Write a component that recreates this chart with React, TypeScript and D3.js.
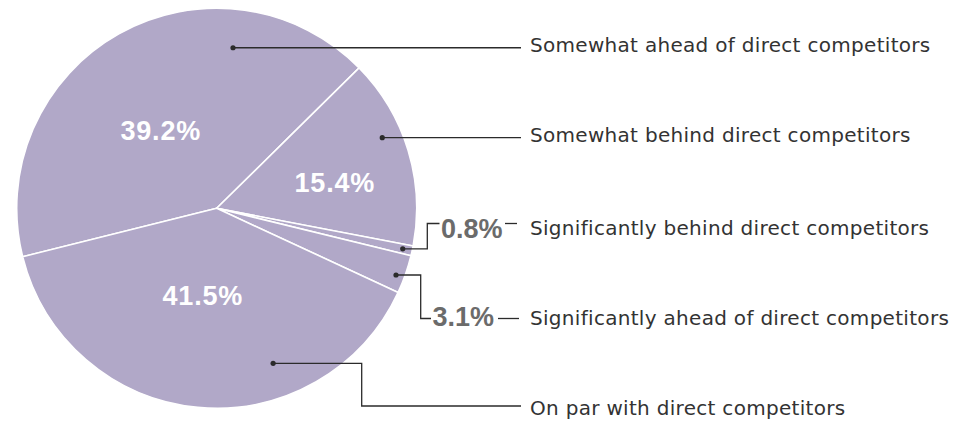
import React from 'react';
import * as d3 from 'd3';

// Slices in clockwise order from the start angle
const categories = [
  'Somewhat ahead of direct competitors',
  'Somewhat behind direct competitors',
  'Significantly behind direct competitors',
  'Significantly ahead of direct competitors',
  'On par with direct competitors',
];
// arc sizes as drawn in the reference (percent)
const sliceShares = [41.5, 15.4, 0.8, 3.1, 39.2];
// percent labels as printed in the reference
const percentLabels = ['39.2%', '15.4%', '0.8%', '3.1%', '41.5%'];

const W = 969;
const H = 421;
const CX = 216.7;
const CY = 208.3;
const R = 200;
const START_DEG = -104;
const FILL = '#b1a8c8';
const LINE = '#2b2b2b';
const LEG_X = 530;
const LINE_END = 521;

const rad = (d: number) => (d * Math.PI) / 180;
const polar = (deg: number, r: number): [number, number] => [
  CX + r * Math.sin(rad(deg)),
  CY - r * Math.cos(rad(deg)),
];

// inner labels: centroid + nudge (null = placed outside)
const innerNudge: ([number, number] | null)[] = [[-7, 9.4], [22.4, 3], null, null, [-4.4, -12.3]];

// callout layout
type Callout = {
  dot: [number, number]; // [angleDeg, radius]
  elbowX?: number;
  elbowY?: number;
  lineY?: number;
  labelX?: number;
  labelBase?: number;
  dash?: [number, number];
  legendBase: number;
};
const callouts: Callout[] = [
  { dot: [5.8, 161.4], legendBase: 51.7 },
  { dot: [66.9, 180], legendBase: 142 },
  { dot: [102.3, 190.4], elbowX: 427.3, elbowY: 223.5, labelX: 441, labelBase: 238.3, dash: [505, 517], legendBase: 234.5 },
  { dot: [110.4, 191.3], elbowX: 420.7, elbowY: 318.5, labelX: 432.5, labelBase: 325.5, dash: [498, 519], legendBase: 324.5 },
  { dot: [160, 165], elbowX: 361.7, elbowY: 406, legendBase: 414.5 },
];

export default function App() {
  const pie = d3
    .pie<number>()
    .sort(null)
    .value((d) => d)
    .startAngle(rad(START_DEG))
    .endAngle(rad(START_DEG + 360));
  const arcs = pie(sliceShares);
  const arc = d3.arc<d3.PieArcDatum<number>>().innerRadius(0).outerRadius(R);
  const labelArc = d3.arc<d3.PieArcDatum<number>>().innerRadius(100).outerRadius(100);

  return (
    <svg width={W} height={H} style={{ position: 'absolute', left: 0, top: 0, background: '#fff' }}>
      <g transform={`translate(${CX},${CY})`}>
        {arcs.map((a, i) => (
          <path key={i} d={arc(a) || ''} fill={FILL} stroke="#fff" strokeWidth={1.6} strokeLinejoin="round" />
        ))}
        {arcs.map((a, i) => {
          const n = innerNudge[i];
          if (!n) return null;
          const [x, y] = labelArc.centroid(a);
          return (
            <text
              key={'t' + i}
              x={x + n[0]}
              y={y + n[1] + 9.5}
              textAnchor="middle"
              fill="#fff"
              fontFamily="'Liberation Sans', Arial, sans-serif"
              fontWeight="bold"
              fontSize={27}
              letterSpacing={0.8}
            >
              {percentLabels[i]}
            </text>
          );
        })}
      </g>
      {callouts.map((c, i) => {
        const [dx, dy] = polar(c.dot[0], c.dot[1]);
        let pts: [number, number][];
        if (c.labelX !== undefined) {
          pts = [
            [dx, dy],
            [c.elbowX!, dy],
            [c.elbowX!, c.elbowY!],
            [c.labelX - 1.5, c.elbowY!],
          ];
        } else if (c.elbowX !== undefined) {
          pts = [
            [dx, dy],
            [c.elbowX, dy],
            [c.elbowX, c.elbowY!],
            [LINE_END, c.elbowY!],
          ];
        } else {
          pts = [
            [dx, dy],
            [LINE_END, dy],
          ];
        }
        const line = d3.line();
        return (
          <g key={'c' + i}>
            <path d={line(pts) || ''} fill="none" stroke={LINE} strokeWidth={1.3} />
            <circle cx={dx} cy={dy} r={2.6} fill={LINE} />
            {c.labelX !== undefined && (
              <text
                x={c.labelX}
                y={c.labelBase}
                fill="#6b6b6b"
                fontFamily="'Liberation Sans', Arial, sans-serif"
                fontWeight="bold"
                fontSize={27}
              >
                {percentLabels[i]}
              </text>
            )}
            {c.dash && (
              <line x1={c.dash[0]} x2={c.dash[1]} y1={c.elbowY} y2={c.elbowY} stroke={LINE} strokeWidth={1.3} />
            )}
            <text
              x={LEG_X}
              y={c.legendBase}
              fill="#333"
              fontFamily="'DejaVu Sans', sans-serif"
              fontSize={20}
              letterSpacing={0.3}
            >
              {categories[i]}
            </text>
          </g>
        );
      })}
    </svg>
  );
}
